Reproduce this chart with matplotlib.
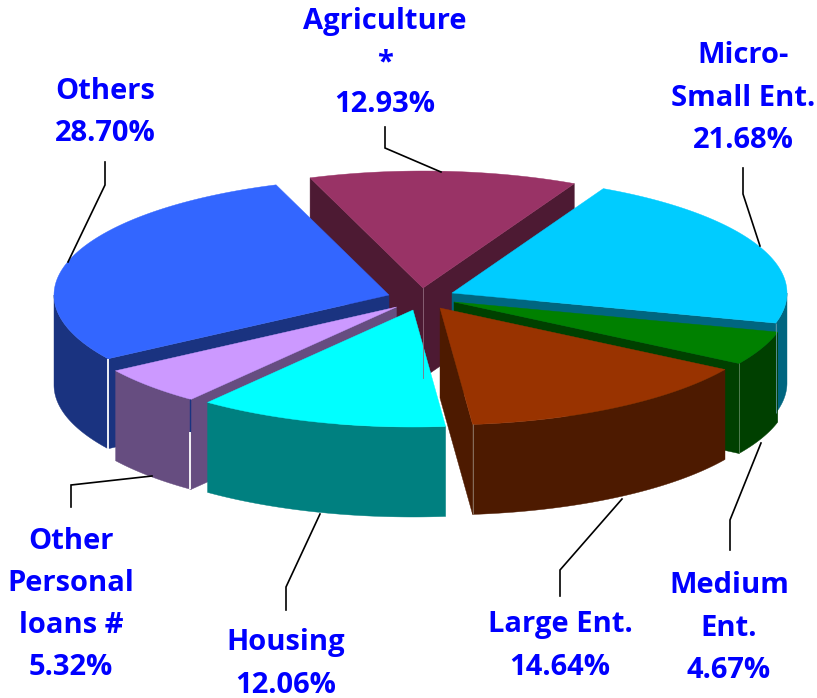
import numpy as np
import matplotlib
matplotlib.use("Agg")
import matplotlib.pyplot as plt
from matplotlib.patches import Polygon

# data
categories = ["Agriculture\n*", "Micro-\nSmall Ent.", "Medium\nEnt.", "Large Ent.",
              "Housing", "Other\nPersonal\nloans #", "Others"]
shares = [12.93, 21.68, 4.67, 14.64, 12.06, 5.32, 28.70]

# styles
top_colors = ["#993366", "#00CCFF", "#008000", "#993300", "#00FFFF", "#CC99FF", "#3366FF"]
wall_colors = ["#4D1A33", "#006680", "#004000", "#4D1A00", "#008080", "#664D80", "#1A3380"]
apex_x = [423, 452, 454, 440, 413, 396.5, 389]
apex_y = [288, 293, 302, 308, 310, 307, 295]
draw_order = [0, 6, 1, 2, 5, 3, 4]
RX, RY, DEPTH, START = 335.0, 117.0, 90.0, -19.7

label_x = [385, 743, 729, 560, 286, 71, 105]
label_y = [63, 98, 628, 646, 664, 604.5, 112.5]
label_sp = [1.55, 1.6, 1.6, 1.6, 1.6, 1.6, 1.6]
leader_x = [[385, 385, 441], [743, 743, 760], [761, 730, 730], [622, 560, 560],
            [320, 286, 286], [152, 71, 71], [105, 105, 68]]
leader_y = [[127, 148, 172], [168, 194, 246], [443, 520, 550], [499, 570, 596],
            [514, 587, 610], [476, 485, 507], [162, 185, 262]]

fig = plt.figure(figsize=(8.17, 6.98), dpi=100)
ax = fig.add_axes([0, 0, 1, 1])
ax.set_xlim(0, 817)
ax.set_ylim(698, 0)
ax.axis("off")

sweeps = np.array(shares) / sum(shares) * 360.0
starts = START + np.concatenate([[0], np.cumsum(sweeps)[:-1]])


def rim(cx, cy, a):
    r = np.radians(a)
    return cx + RX * np.sin(r), cy - RY * np.cos(r)


def poly(x, y, c):
    ax.add_patch(Polygon(np.column_stack([x, y]), closed=True, facecolor=c,
                         edgecolor=c, linewidth=0.3))


for i in draw_order:
    cx, cy, a0, a1 = apex_x[i], apex_y[i], starts[i], starts[i] + sweeps[i]
    # radial walls that face the viewer
    for a, n in ((a0, a0 - 90), (a1, a1 + 90)):
        if np.cos(np.radians(n)) < 0:
            ex, ey = rim(cx, cy, a)
            poly([cx, ex, ex, cx], [cy, ey, ey + DEPTH, cy + DEPTH], wall_colors[i])
    # outer wall, front part only
    lo, hi = max(a0, 90), min(a1, 270)
    if hi > lo:
        t = np.linspace(lo, hi, 80)
        x, y = rim(cx, cy, t)
        poly(np.r_[x, x[::-1]], np.r_[y, y[::-1] + DEPTH], wall_colors[i])
    # top face
    t = np.linspace(a0, a1, 120)
    x, y = rim(cx, cy, t)
    poly(np.r_[cx, x], np.r_[cy, y], top_colors[i])

# seams between faces
def seam(i, a, c, f0=0.0, f1=1.0, dx=0.0, lw=1.0):
    x, y = rim(apex_x[i], apex_y[i], a)
    ax.plot([x + dx, x + dx], [y + DEPTH * f0, y + DEPTH * f1], color=c, lw=lw,
            solid_capstyle="butt")


ax.plot([apex_x[0]] * 2, [apex_y[0], apex_y[0] + DEPTH], color="#8F6A7D", lw=0.6)
seam(6, starts[6], "white", dx=0.0, lw=1.3)
seam(5, starts[5], "#1A3380", 0.0, 0.36, dx=-1, lw=1.0)
seam(5, starts[5], "white", 0.36, 1.0, dx=-1, lw=1.3)
seam(3, starts[4], "#8F7A6A", lw=0.6)
seam(2, starts[3], "#5E8A5E", lw=0.6)
seam(1, starts[2], "#6699AA", lw=0.6)

for lx, ly in zip(leader_x, leader_y):
    ax.plot(lx, ly, color="black", lw=1.2, solid_joinstyle="miter")

for i in range(len(shares)):
    ax.text(label_x[i], label_y[i], f"{categories[i]}\n{shares[i]:.2f}%",
            ha="center", va="center", multialignment="center", color="#0000FF",
            fontsize=21, fontweight="bold", family="Open Sans", linespacing=label_sp[i])

fig.savefig("out.png", dpi=100)
